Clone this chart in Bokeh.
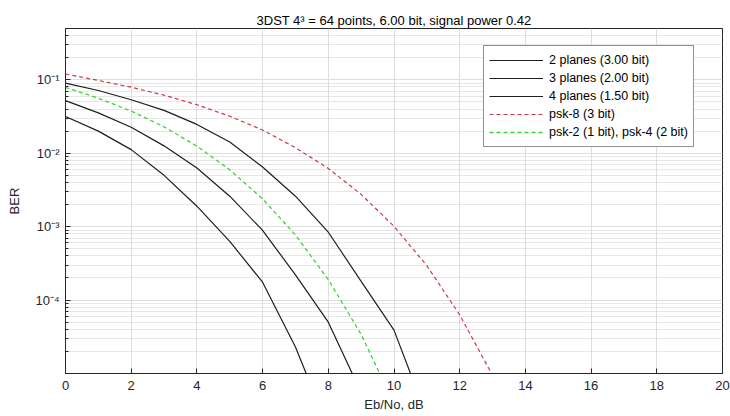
from bokeh.plotting import figure
from bokeh.models import Range1d, FixedTicker, Legend, LegendItem
from bokeh.embed import file_html
from bokeh.resources import INLINE

# ---- data ----
x_2planes = [0, 1, 2, 3, 4, 5, 6, 7, 8, 9, 10, 11]
ber_2planes = [0.090, 0.0716, 0.0536, 0.0383, 0.0247, 0.0142, 0.0065, 0.0026, 8.4e-4, 1.8e-4, 3.9e-5, 2.6e-6]

x_3planes = [0, 1, 2, 3, 4, 5, 6, 7, 8, 9]
ber_3planes = [0.052, 0.0355, 0.0226, 0.0126, 0.0063, 0.0026, 8.9e-4, 2.2e-4, 5.0e-5, 5.5e-6]

x_4planes = [0, 1, 2, 3, 4, 5, 6, 7, 8]
ber_4planes = [0.0317, 0.020, 0.0112, 0.0050, 0.0019, 6.3e-4, 1.75e-4, 2.3e-5, 1.8e-6]

x_psk8 = [0, 1, 2, 3, 4, 5, 6, 7, 8, 9, 10, 11, 12, 13]
ber_psk8 = [0.12, 0.098, 0.0793, 0.0618, 0.0458, 0.0319, 0.0207, 0.0119, 0.0062, 0.00275, 0.00101, 2.94e-4, 6.3e-5, 9.4e-6]

x_psk2 = [0, 1, 2, 3, 4, 5, 6, 7, 8, 9, 10]
ber_psk2 = [0.0786, 0.0563, 0.0375, 0.0229, 0.0125, 0.00595, 0.00239, 7.7e-4, 1.9e-4, 3.4e-5, 3.9e-6]

x_ticks = [0, 2, 4, 6, 8, 10, 12, 14, 16, 18, 20]
y_ticks = [1e-1, 1e-2, 1e-3, 1e-4]
y_tick_labels = ["10⁻¹", "10⁻²", "10⁻³", "10⁻⁴"]
y_minor = [m * 10.0 ** e for e in range(-5, 0) for m in range(2, 10)]

labels = ["2 planes (3.00 bit)", "3 planes (2.00 bit)", "4 planes (1.50 bit)",
          "psk-8 (3 bit)", "psk-2 (1 bit), psk-4 (2 bit)"]

FONT = "Liberation Sans"
AX = "#262626"

p = figure(width=730, height=416, output_backend="svg", toolbar_location=None,
           x_range=Range1d(0, 20), y_range=Range1d(1e-5, 0.5), y_axis_type="log",
           min_border_left=65, min_border_right=8, min_border_top=28, min_border_bottom=43)

p.title.text = "3DST 4³ = 64 points, 6.00 bit, signal power 0.42"
p.title.align = "center"
p.title.text_font = FONT
p.title.text_font_size = "13px"
p.title.text_font_style = "normal"
p.title.text_color = "#000000"
p.title.standoff = 2

p.outline_line_color = AX
p.outline_line_width = 1
p.background_fill_color = "white"
p.border_fill_color = "white"

xt = FixedTicker(ticks=x_ticks)
yt = FixedTicker(ticks=y_ticks, minor_ticks=y_minor)
p.xaxis.ticker = xt
p.yaxis.ticker = yt
p.yaxis.major_label_overrides = {t: l for t, l in zip(y_ticks, y_tick_labels)}

for ax in (p.xaxis[0], p.yaxis[0]):
    ax.axis_line_color = AX
    ax.major_tick_line_color = AX
    ax.minor_tick_line_color = AX
    ax.major_tick_in = 5
    ax.major_tick_out = 0
    ax.minor_tick_in = 3
    ax.minor_tick_out = 0
    ax.major_label_text_font = FONT
    ax.major_label_text_font_size = "13px"
    ax.major_label_text_color = AX
    ax.axis_label_text_font = FONT
    ax.axis_label_text_font_size = "13px"
    ax.axis_label_text_font_style = "normal"
    ax.axis_label_text_color = AX
p.xaxis.axis_label = "Eb/No, dB"
p.yaxis.axis_label = "BER"
p.xaxis.major_label_standoff = 7
p.xaxis.axis_label_standoff = 4
p.yaxis.major_label_standoff = 6
p.yaxis.axis_label_standoff = 10

p.xgrid.ticker = xt
p.xgrid.grid_line_color = "#dedede"
p.ygrid.ticker = yt
p.ygrid.grid_line_color = "#dedede"
p.ygrid.minor_grid_line_color = "#cfcfcf"
p.ygrid.minor_grid_line_dash = "1 1"

BLACK = "#1e1e1e"
r1 = p.line(x_2planes, ber_2planes, line_color=BLACK, line_width=1.2)
r2 = p.line(x_3planes, ber_3planes, line_color=BLACK, line_width=1.2)
r3 = p.line(x_4planes, ber_4planes, line_color=BLACK, line_width=1.2)
r4 = p.line(x_psk8, ber_psk8, line_color="#cc3a44", line_width=1.2, line_dash="4 3")
r5 = p.line(x_psk2, ber_psk2, line_color="#3ad43a", line_width=1.3, line_dash="4 3")

legend = Legend(items=[LegendItem(label=l, renderers=[r]) for l, r in zip(labels, [r1, r2, r3, r4, r5])],
                location=(418, 226))
legend.label_text_font = FONT
legend.label_text_font_size = "12.5px"
legend.label_text_color = "#000000"
legend.glyph_width = 54
legend.glyph_height = 18
legend.label_height = 18
legend.label_standoff = 6
legend.spacing = 0
legend.padding = 5
legend.margin = 0
legend.border_line_color = AX
legend.border_line_width = 1
legend.background_fill_color = "white"
legend.background_fill_alpha = 1
p.add_layout(legend, "center")

open("out.html", "w").write(file_html(p, INLINE))
